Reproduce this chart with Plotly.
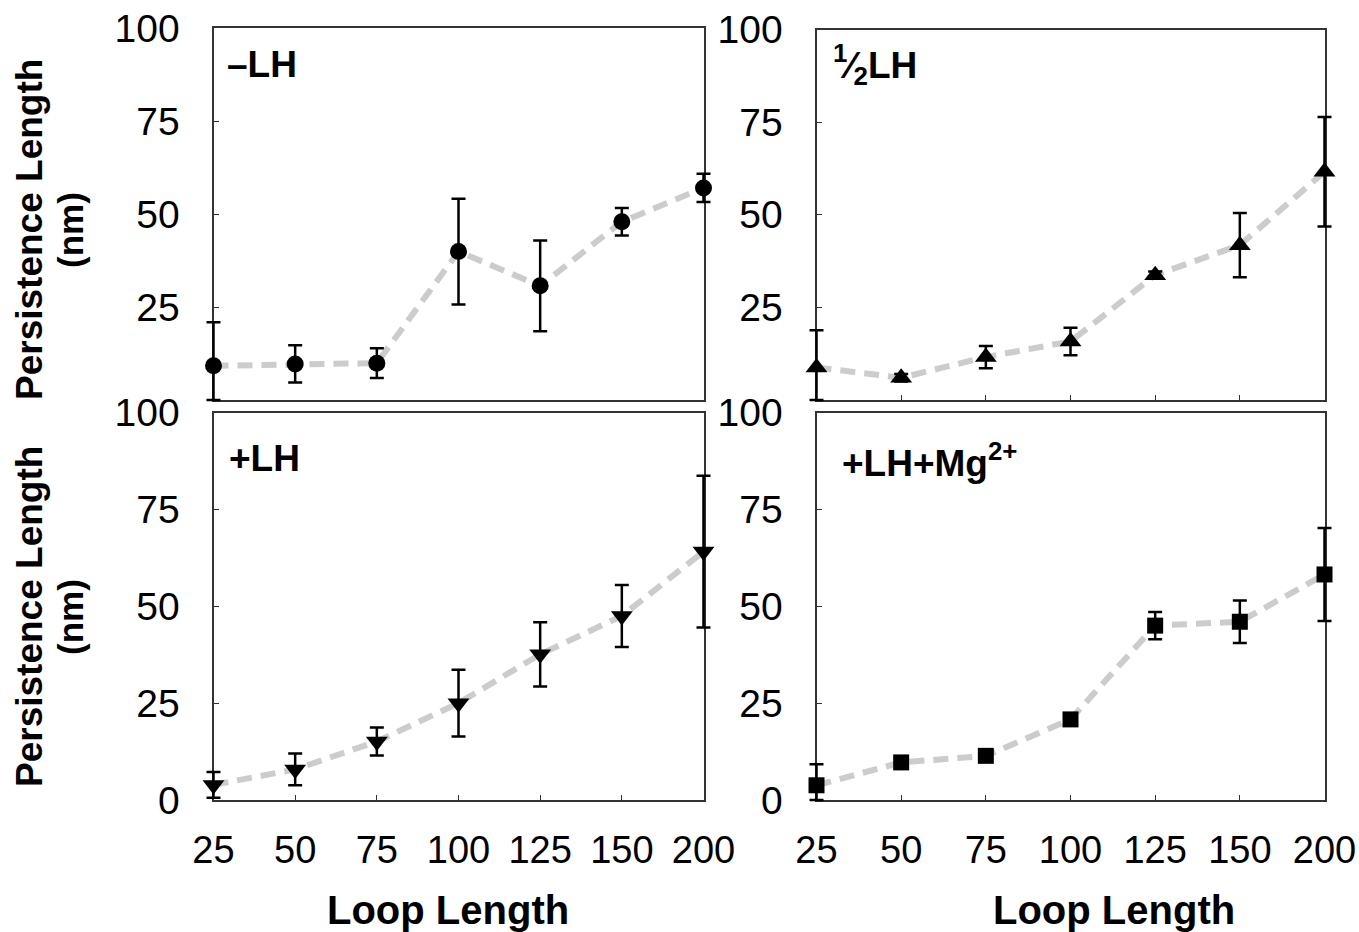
import plotly.graph_objects as go

W, H = 1359, 932

loop_lengths = ["25", "50", "75", "100", "125", "150", "200"]

minus_lh = [9.2, 9.7, 9.9, 39.9, 30.7, 47.9, 57.0]
minus_lh_err = [11.7, 5.0, 4.0, 14.2, 12.2, 3.7, 3.8]

half_lh = [8.8, 6.0, 11.6, 15.8, 33.7, 41.8, 61.6]
half_lh_err = [10.0, 1.0, 3.0, 3.7, 1.0, 8.7, 14.8]

plus_lh = [3.9, 7.9, 15.1, 25.0, 37.6, 47.5, 64.1]
plus_lh_err = [3.3, 4.1, 3.6, 8.6, 8.3, 8.0, 19.6]

plus_lh_mg = [3.8, 9.7, 11.4, 20.8, 45.0, 46.0, 58.2]
plus_lh_mg_err = [5.4, 0.0, 0.0, 0.0, 3.5, 5.5, 12.0]

panel_labels = ["\u2013LH", "<sup>1</sup>\u2044<sub>2</sub>LH", "+LH", "+LH+Mg<sup>2+</sup>"]
y_title = "Persistence Length"
y_unit = "(nm)"
x_title = "Loop Length"

x_idx = list(range(len(loop_lengths)))
XMAX = len(loop_lengths) - 1


def px_x(p):
    return p / W


def px_y(p):
    return 1 - p / H


# panel frames in pixels: (x0, x1, y_top, y_bottom)
panels = [
    (213.5, 703.5, 28.0, 400.0),
    (816.5, 1324.5, 29.5, 400.0),
    (213.5, 703.5, 412.5, 800.0),
    (816.5, 1324.5, 412.5, 800.0),
]

series = [
    (minus_lh, minus_lh_err, "circle", 17),
    (half_lh, half_lh_err, "triangle-up", 19),
    (plus_lh, plus_lh_err, "triangle-down", 19),
    (plus_lh_mg, plus_lh_mg_err, "square", 16),
]

PAD = 24
fig = go.Figure()
layout_axes = {}

for i, ((vals, errs, sym, msize), (x0, x1, yt, yb)) in enumerate(zip(series, panels)):
    n = i + 1          # base subplot
    m = i + 5          # overlay subplot (markers + error bars, unclipped look)
    top = n <= 2
    xa, ya = ("x", "y") if n == 1 else (f"x{n}", f"y{n}")
    xo, yo = f"x{m}", f"y{m}"
    minus = [min(e, v) for e, v in zip(errs, vals)]

    fig.add_trace(go.Scatter(
        x=x_idx, y=vals, mode="lines",
        line=dict(color="#cccccc", width=6, dash="15px,9px"),
        xaxis=xa, yaxis=ya, showlegend=False, hoverinfo="skip",
    ))
    fig.add_trace(go.Scatter(
        x=x_idx, y=vals, mode="markers",
        marker=dict(symbol=sym, size=msize, color="black"),
        error_y=dict(type="data", array=errs, arrayminus=minus, symmetric=False,
                     color="black", thickness=2.5, width=7),
        cliponaxis=False,
        xaxis=xo, yaxis=yo, showlegend=False,
    ))

    xkey = "xaxis" if n == 1 else f"xaxis{n}"
    ykey = "yaxis" if n == 1 else f"yaxis{n}"
    layout_axes[xkey] = dict(
        domain=[px_x(x0), px_x(x1)],
        anchor=ya, automargin=False,
        range=[0, XMAX],
        tickmode="array", tickvals=x_idx, ticktext=loop_lengths,
        showline=True, mirror=True, linecolor="#333333", linewidth=2,
        showgrid=False, zeroline=False,
        ticks="" if n == 1 else "inside", ticklen=5, tickwidth=1, tickcolor="#333333",
        showticklabels=not top,
        ticklabelstandoff=15,
        tickfont=dict(family="Liberation Sans Narrow, Arial Narrow, Liberation Sans, sans-serif",
                      size=38, color="black"),
    )
    layout_axes[ykey] = dict(
        domain=[px_y(yb), px_y(yt)],
        anchor=xa, automargin=False,
        range=[0, 100],
        tickmode="array",
        tickvals=[25, 50, 75, 100] if top else [0, 25, 50, 75, 100],
        ticktext=["25", "50", "75", "100"] if top else ["0", "25", "50", "75", "100"],
        showline=True, mirror=True, linecolor="#333333", linewidth=2,
        showgrid=False, zeroline=False,
        ticks="inside", ticklen=5, tickwidth=1, tickcolor="#333333",
        ticklabelstandoff=24,
        tickfont=dict(family="Liberation Sans, Arial, sans-serif", size=39, color="black"),
    )

    # overlay axes: same scale, larger domain
    ppx = (x1 - x0) / XMAX
    ppy = (yb - yt) / 100.0
    layout_axes[f"xaxis{m}"] = dict(
        domain=[px_x(x0 - PAD), px_x(x1 + PAD)], anchor=yo, automargin=False,
        range=[-PAD / ppx, XMAX + PAD / ppx], visible=False, showgrid=False, zeroline=False,
    )
    layout_axes[f"yaxis{m}"] = dict(
        domain=[px_y(yb + PAD), px_y(yt - PAD)], anchor=xo, automargin=False,
        range=[-PAD / ppy, 100 + PAD / ppy], visible=False, showgrid=False, zeroline=False,
    )

annotations = []
label_pos = [(225, 64), (831, 64), (227, 458), (840, 460)]
for text, (lx, ly) in zip(panel_labels, label_pos):
    annotations.append(dict(
        text=f"<b>{text}</b>", x=px_x(lx), y=px_y(ly), xref="paper", yref="paper",
        xanchor="left", yanchor="middle", showarrow=False,
        font=dict(family="Liberation Sans, Arial, sans-serif", size=37, color="black"),
    ))

for cy in (230, 617):
    annotations.append(dict(
        text=f"<b>{y_title}</b>", x=px_x(29), y=px_y(cy), xref="paper", yref="paper",
        xanchor="center", yanchor="middle", showarrow=False, textangle=-90,
        font=dict(family="Liberation Sans, Arial, sans-serif", size=37, color="black"),
    ))
    annotations.append(dict(
        text=f"<b>{y_unit}</b>", x=px_x(70), y=px_y(cy), xref="paper", yref="paper",
        xanchor="center", yanchor="middle", showarrow=False, textangle=-90,
        font=dict(family="Liberation Sans, Arial, sans-serif", size=35, color="black"),
    ))

for cx in (448, 1114):
    annotations.append(dict(
        text=f"<b>{x_title}</b>", x=px_x(cx), y=px_y(910), xref="paper", yref="paper",
        xanchor="center", yanchor="middle", showarrow=False,
        font=dict(family="Liberation Sans, Arial, sans-serif", size=40, color="black"),
    ))

fig.update_layout(
    width=W, height=H,
    margin=dict(l=0, r=0, t=0, b=0, autoexpand=False),
    paper_bgcolor="white", plot_bgcolor="rgba(0,0,0,0)",
    annotations=annotations,
    showlegend=False,
    **layout_axes,
)

fig.write_html(
    "out.html",
    config={"displayModeBar": False},
    post_script="document.body.style.margin='0';document.body.style.overflow='hidden';",
)
